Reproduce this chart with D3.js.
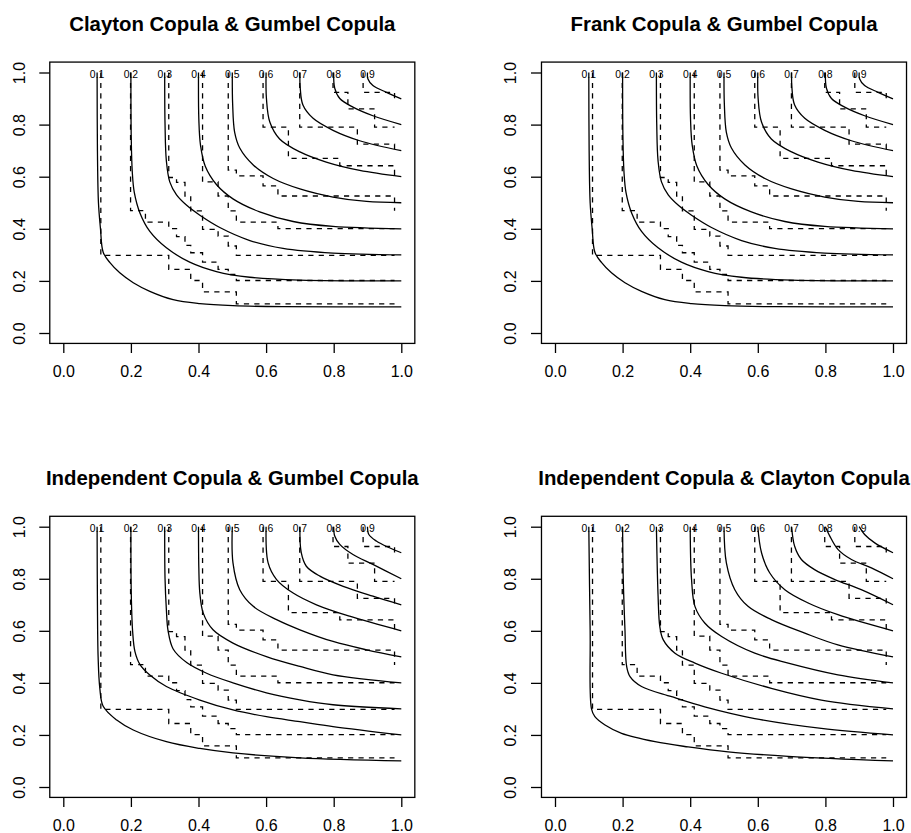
<!DOCTYPE html>
<html><head><meta charset="utf-8">
<script src="https://cdn.jsdelivr.net/npm/d3@7"></script>
<style>body{margin:0;background:#fff} svg{display:block}</style>
</head><body>
<script>
const titles = ["Clayton Copula & Gumbel Copula","Frank Copula & Gumbel Copula","Independent Copula & Gumbel Copula","Independent Copula & Clayton Copula"];
const levels = [0.1,0.2,0.3,0.4,0.5,0.6,0.7,0.8,0.9];
const levelLabels = ["0.1","0.2","0.3","0.4","0.5","0.6","0.7","0.8","0.9"];
const tickValues = [0,0.2,0.4,0.6,0.8,1];
const tickLabels = ["0.0","0.2","0.4","0.6","0.8","1.0"];

// solid contour lines, panels 1 & 2
const solidGumbel = [
 [[0.1,1],[0.101,0.7],[0.104,0.5],[0.11,0.4],[0.118,0.31],[0.138,0.27],[0.167,0.231],[0.207,0.193],[0.256,0.16],[0.325,0.128],[0.404,0.113],[0.502,0.105],[0.65,0.101],[1,0.1]],
 [[0.2,1],[0.201,0.75],[0.204,0.62],[0.21,0.54],[0.227,0.46],[0.256,0.39],[0.305,0.327],[0.374,0.272],[0.453,0.236],[0.552,0.214],[0.7,0.203],[1,0.2]],
 [[0.3,1],[0.301,0.8],[0.305,0.66],[0.315,0.58],[0.335,0.53],[0.365,0.49],[0.404,0.452],[0.463,0.405],[0.552,0.355],[0.65,0.325],[0.798,0.307],[1,0.3]],
 [[0.4,1],[0.401,0.82],[0.406,0.72],[0.42,0.64],[0.453,0.57],[0.502,0.515],[0.581,0.465],[0.68,0.428],[0.798,0.409],[1,0.4]],
 [[0.5,1],[0.501,0.88],[0.507,0.77],[0.522,0.71],[0.562,0.645],[0.621,0.593],[0.70,0.553],[0.798,0.522],[0.897,0.505],[1,0.5]],
 [[0.6,1],[0.601,0.9],[0.611,0.81],[0.640,0.745],[0.70,0.695],[0.778,0.656],[0.877,0.624],[1,0.6]],
 [[0.7,1],[0.701,0.94],[0.709,0.875],[0.739,0.824],[0.798,0.778],[0.877,0.738],[1,0.7]],
 [[0.8,1],[0.803,0.94],[0.818,0.9],[0.857,0.867],[0.916,0.834],[1,0.8]],
 [[0.9,1],[0.901,0.976],[0.916,0.95],[0.956,0.924],[1,0.899]]
];
// panel 3
const solidIndGumbel = [
 [[0.1,1],[0.101,0.7],[0.103,0.5],[0.108,0.38],[0.118,0.31],[0.158,0.257],[0.207,0.219],[0.305,0.174],[0.404,0.148],[0.502,0.131],[0.7,0.112],[1,0.1]],
 [[0.2,1],[0.201,0.75],[0.205,0.6],[0.212,0.52],[0.227,0.47],[0.256,0.43],[0.305,0.386],[0.404,0.334],[0.502,0.296],[0.601,0.27],[0.7,0.251],[0.798,0.232],[1,0.2]],
 [[0.3,1],[0.301,0.8],[0.305,0.68],[0.31,0.6],[0.325,0.53],[0.365,0.478],[0.424,0.437],[0.502,0.4],[0.601,0.362],[0.7,0.335],[0.798,0.316],[1,0.3]],
 [[0.4,1],[0.401,0.84],[0.404,0.745],[0.414,0.668],[0.443,0.604],[0.502,0.553],[0.601,0.501],[0.7,0.463],[0.798,0.431],[1,0.4]],
 [[0.5,1],[0.502,0.861],[0.522,0.758],[0.562,0.694],[0.631,0.643],[0.70,0.604],[0.798,0.559],[0.897,0.527],[1,0.5]],
 [[0.6,1],[0.606,0.861],[0.631,0.797],[0.68,0.745],[0.749,0.7],[0.847,0.656],[1,0.6]],
 [[0.7,1],[0.704,0.9],[0.719,0.848],[0.759,0.81],[0.828,0.771],[0.916,0.733],[1,0.7]],
 [[0.8,1],[0.803,0.964],[0.818,0.932],[0.857,0.893],[0.916,0.855],[1,0.8]],
 [[0.9,1],[0.904,0.97],[0.926,0.945],[0.965,0.919],[1,0.9]]
];
// panel 4
const solidIndClayton = [
 [[0.1,1],[0.104,0.6],[0.108,0.3],[0.118,0.27],[0.148,0.238],[0.197,0.206],[0.296,0.174],[0.394,0.154],[0.512,0.135],[0.69,0.118],[1,0.1]],
 [[0.2,1],[0.202,0.797],[0.207,0.604],[0.212,0.463],[0.222,0.424],[0.256,0.386],[0.345,0.347],[0.443,0.308],[0.591,0.263],[0.788,0.225],[1,0.2]],
 [[0.3,1],[0.305,0.733],[0.31,0.617],[0.32,0.566],[0.355,0.514],[0.414,0.476],[0.493,0.437],[0.64,0.379],[0.788,0.334],[1,0.3]],
 [[0.4,1],[0.404,0.797],[0.414,0.694],[0.443,0.63],[0.493,0.578],[0.591,0.514],[0.69,0.476],[0.837,0.431],[1,0.4]],
 [[0.5,1],[0.507,0.861],[0.532,0.758],[0.571,0.694],[0.64,0.643],[0.739,0.591],[0.837,0.546],[1,0.5]],
 [[0.6,1],[0.611,0.9],[0.635,0.823],[0.68,0.758],[0.749,0.707],[0.837,0.662],[1,0.6]],
 [[0.7,1],[0.709,0.925],[0.729,0.874],[0.768,0.835],[0.828,0.797],[0.906,0.758],[1,0.7]],
 [[0.8,1],[0.813,0.964],[0.837,0.913],[0.877,0.874],[0.936,0.842],[1,0.8]],
 [[0.9,1],[0.916,0.97],[0.946,0.938],[1,0.9]]
];
// dashed (empirical, step) contour lines, same in all panels
const dashedEmpirical = [
 [[.111,1],[.111,.298],[.312,.298],[.312,.244],[.377,.244],[.377,.2015],[.412,.2015],[.412,.158],[.512,.158],[.512,.112],[.980,.112]],
 [[.199,1],[.199,.470],[.243,.470],[.243,.426],[.312,.426],[.312,.4005],[.335,.4005],[.335,.370],[.360,.370],[.360,.336],[.377,.336],[.377,.308],[.412,.308],[.412,.272],[.458,.272],[.458,.244],[.488,.244],[.488,.2246],[.512,.2246],[.512,.2015],[.980,.2015]],
 [[.312,1],[.312,.597],[.335,.597],[.335,.578],[.360,.578],[.360,.526],[.377,.526],[.377,.4685],[.412,.4685],[.412,.398],[.458,.398],[.458,.372],[.488,.372],[.488,.334],[.512,.334],[.512,.298],[.980,.298]],
 [[.412,1],[.412,.580],[.458,.580],[.458,.526],[.488,.526],[.488,.4685],[.512,.4685],[.512,.426],[.635,.426],[.635,.4005],[.980,.4005]],
 [[.488,1],[.488,.625],[.512,.625],[.512,.603],[.591,.603],[.591,.565],[.635,.565],[.635,.526],[.980,.526],[.980,.469]],
 [[.591,1],[.591,.79],[.666,.79],[.666,.670],[.818,.670],[.818,.642],[.980,.642],[.980,.597]],
 [[.6995,1],[.6995,.79],[.870,.79],[.870,.725],[.980,.725],[.980,.687]],
 [[.798,1],[.798,.924],[.842,.924],[.842,.860],[.921,.860],[.921,.79],[.980,.79]],
 [[.887,1],[.887,.924],[.980,.924],[.980,.886]]
];
const panelSolid = [solidGumbel, solidGumbel, solidIndGumbel, solidIndClayton];

const W = 911, H = 833;
const colX = [[63.3, 401.3], [555, 893]];
const rowY = [[333, 72.5], [787, 526.7]];
const FONT = "'Liberation Sans', Arial, Helvetica, sans-serif";

const svg = d3.select("body").append("svg").attr("width", W).attr("height", H)
  .style("font-family", FONT);

titles.forEach((title, p) => {
  const c = p % 2, r = Math.floor(p / 2);
  const x = d3.scaleLinear().domain([0, 1]).range(colX[c]);
  const y = d3.scaleLinear().domain([0, 1]).range(rowY[r]);
  const g = svg.append("g");

  const bx0 = x(-0.04), bx1 = x(1.04), by0 = y(1.04), by1 = y(-0.04);

  // title
  g.append("text").attr("x", (bx0 + bx1) / 2).attr("y", by0 - 31.3)
    .attr("text-anchor", "middle").attr("font-weight", "bold").attr("font-size", 20.4)
    .text(title);

  // axes
  const xa = d3.axisBottom(x).tickValues(tickValues).tickFormat((d, i) => tickLabels[i]).tickSize(9.6).tickPadding(0);
  const gx = g.append("g").attr("transform", `translate(0,${by1})`).call(xa);
  gx.select(".domain").remove();
  gx.selectAll("line").attr("stroke", "#000").attr("stroke-width", 1.3);
  gx.selectAll("text").attr("font-size", 16).attr("fill", "#000").attr("font-family", FONT)
    .attr("dy", null).attr("y", 34);

  const ya = d3.axisLeft(y).tickValues(tickValues).tickFormat((d, i) => tickLabels[i]).tickSize(10.5).tickPadding(0);
  const gy = g.append("g").attr("transform", `translate(${bx0},0)`).call(ya);
  gy.select(".domain").remove();
  gy.selectAll("line").attr("stroke", "#000").attr("stroke-width", 1.3);
  gy.selectAll("text").attr("font-size", 16).attr("fill", "#000").attr("font-family", FONT)
    .attr("x", null).attr("dy", null).attr("text-anchor", "middle")
    .attr("transform", "translate(-25,0) rotate(-90)").attr("y", 0);

  // box
  g.append("rect").attr("x", bx0).attr("y", by0).attr("width", bx1 - bx0).attr("height", by1 - by0)
    .attr("fill", "none").attr("stroke", "#000").attr("stroke-width", 1.3);

  const clipId = "clip" + p;
  g.append("clipPath").attr("id", clipId).append("rect")
    .attr("x", bx0).attr("y", by0).attr("width", bx1 - bx0).attr("height", by1 - by0);
  const plot = g.append("g").attr("clip-path", `url(#${clipId})`);

  const solidLine = d3.line().x(d => x(d[0])).y(d => y(d[1])).curve(d3.curveCatmullRom.alpha(0.5));
  const stepLine = d3.line().x(d => x(d[0])).y(d => y(d[1]));

  plot.selectAll("path.dash").data(dashedEmpirical).join("path").attr("class", "dash")
    .attr("d", stepLine).attr("fill", "none").attr("stroke", "#000").attr("stroke-width", 1.3)
    .attr("stroke-dasharray", "5.2,5.2");

  plot.selectAll("path.solid").data(panelSolid[p]).join("path").attr("class", "solid")
    .attr("d", solidLine).attr("fill", "none").attr("stroke", "#000").attr("stroke-width", 1.3);

  plot.selectAll("text.lab").data(levels).join("text").attr("class", "lab")
    .attr("x", d => x(d)).attr("y", y(1) + 5).attr("text-anchor", "middle")
    .attr("font-size", 10.4).attr("fill", "#000").text((d, i) => levelLabels[i]);
});
</script>
</body></html>
